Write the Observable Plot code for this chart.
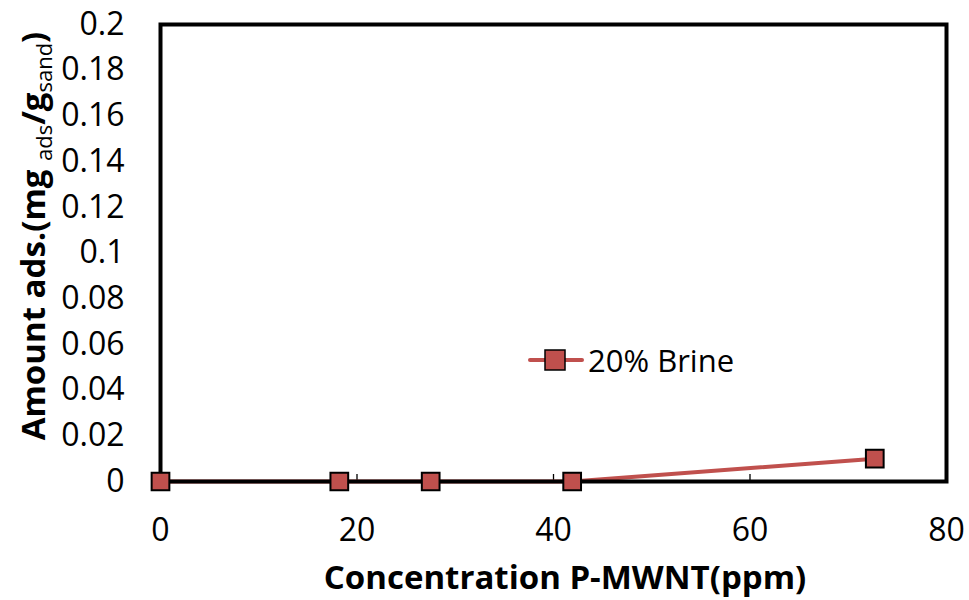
<!DOCTYPE html>
<html>
<head>
<meta charset="utf-8">
<script src="https://cdn.jsdelivr.net/npm/d3@7"></script>
<script src="https://cdn.jsdelivr.net/npm/@observablehq/plot@0.6"></script>
<style>
  html, body { margin: 0; padding: 0; background: #fff; }
  #wrap { position: relative; width: 969px; height: 600px; }
  #legend { position: absolute; left: 528px; top: 338px; display: flex; align-items: center;
            font-family: "Open Sans", sans-serif; font-size: 31px; color: #000; line-height: 44px; }
</style>
</head>
<body>
<div id="wrap"></div>
<script>
const seriesName = "20% Brine";
const concentration = [0, 18.2, 27.5, 41.9, 72.7];
const amountAds = [0, 0, 0, 0, 0.01];
const xTicks = [0, 20, 40, 60, 80];
const yTicks = [0, 0.02, 0.04, 0.06, 0.08, 0.1, 0.12, 0.14, 0.16, 0.18, 0.2];
const xTitle = "Concentration P-MWNT(ppm)";

const color = "#C0504D";
const data = concentration.map((c, i) => ({x: c, y: amountAds[i]}));
const fmt = d => String(+d.toFixed(2));

const chart = Plot.plot({
  width: 969,
  height: 600,
  marginLeft: 160,
  marginRight: 23,
  marginTop: 24,
  marginBottom: 119,
  style: {fontFamily: "Open Sans, sans-serif", fontSize: "32px", color: "#000", background: "#fff"},
  x: {domain: [0, 80]},
  y: {domain: [0, 0.2]},
  marks: [
    Plot.axisY({ticks: yTicks, tickFormat: fmt, tickSize: 0, tickPadding: 36, label: null, fontSize: 32}),
    Plot.axisX({ticks: xTicks, tickFormat: fmt, tickSize: 0, tickPadding: 37, label: null, fontSize: 32}),
    Plot.tickX(xTicks.slice(1, -1), {x: d => d, stroke: "#000", strokeWidth: 1.3, insetTop: 450}),
    Plot.line(data, {x: "x", y: "y", stroke: color, strokeWidth: 4}),
    Plot.frame({stroke: "#000", strokeWidth: 4}),
    Plot.dot(data, {x: "x", y: "y", symbol: "square", r: 10, fill: color, stroke: "#000", strokeWidth: 2})
  ]
});

const svg = d3.select(chart);
// x axis title
svg.append("text")
  .attr("x", 565).attr("y", 589)
  .attr("text-anchor", "middle")
  .attr("font-family", "Open Sans, sans-serif")
  .attr("font-weight", "bold")
  .attr("font-size", 33)
  .attr("fill", "#000")
  .text(xTitle);
// y axis title with subscripts
const yt = svg.append("text")
  .attr("transform", "translate(45,236) rotate(-90)")
  .attr("text-anchor", "middle")
  .attr("font-family", "Open Sans, sans-serif")
  .attr("font-weight", "bold")
  .attr("font-size", 33)
  .attr("fill", "#000");
yt.append("tspan").text("Amount ads.(mg ");
yt.append("tspan").attr("font-size", 22).attr("font-weight", "normal").attr("dy", 7).text("ads");
yt.append("tspan").attr("dy", -7).text("/g");
yt.append("tspan").attr("font-size", 22).attr("font-weight", "normal").attr("dy", 7).text("sand");
yt.append("tspan").attr("dy", -7).text(")");

document.getElementById("wrap").appendChild(chart);

// legend
const legend = document.createElement("div");
legend.id = "legend";
legend.innerHTML = `<svg width="56" height="24" style="margin-right:4px">
  <line x1="2" y1="12" x2="54" y2="12" stroke="${color}" stroke-width="4" stroke-linecap="round"/>
  <rect x="17" y="2" width="20" height="20" fill="${color}" stroke="#000" stroke-width="1.5"/>
</svg><span>${seriesName}</span>`;
document.getElementById("wrap").appendChild(legend);
</script>
</body>
</html>
